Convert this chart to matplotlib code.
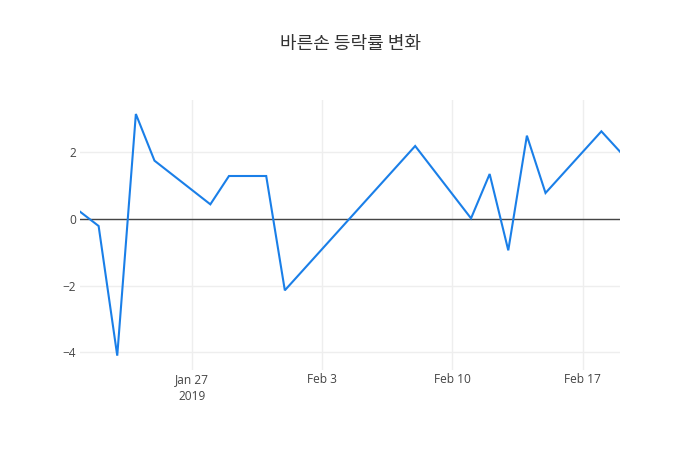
import matplotlib
matplotlib.use("Agg")
import matplotlib.pyplot as plt
import datetime as dt

dates = ["2019-01-21", "2019-01-22", "2019-01-23", "2019-01-24", "2019-01-25",
         "2019-01-28", "2019-01-29", "2019-01-31", "2019-02-01", "2019-02-08",
         "2019-02-11", "2019-02-12", "2019-02-13", "2019-02-14", "2019-02-15",
         "2019-02-18", "2019-02-19"]
values = [0.22, -0.21, -4.10, 3.15, 1.75,
          0.44, 1.29, 1.29, -2.14, 2.19,
          0.02, 1.35, -0.94, 2.50, 0.78,
          2.63, 2.02]
title = "바른손 등락률 변화"
xtick_dates = ["2019-01-27", "2019-02-03", "2019-02-10", "2019-02-17"]
xtick_labels = ["Jan 27\n2019", "Feb 3", "Feb 10", "Feb 17"]
ytick_values = [-4, -2, 0, 2]

plt.rcParams['font.family'] = ['Open Sans', 'DejaVu Sans']

x = [dt.datetime.strptime(d, "%Y-%m-%d") for d in dates]
xt = [dt.datetime.strptime(d, "%Y-%m-%d") for d in xtick_dates]

fig = plt.figure(figsize=(7, 4.5), dpi=100)
ax = fig.add_axes([80/700, 80/450, 540/700, 270/450])

ax.plot(x, values, color='#1a7fe8', linewidth=1.5, zorder=3, solid_joinstyle='miter')
ax.axhline(0, color='#444444', linewidth=1.0, zorder=2)

ax.set_xlim(x[0], x[-1])
ax.set_ylim(-4.53, 3.57)

ax.set_xticks(xt)
ax.set_xticklabels(xtick_labels)
ax.set_yticks(ytick_values)
ax.set_yticklabels([("\u2212" + str(abs(v))) if v < 0 else str(v) for v in ytick_values])

ax.grid(True, color='#eeeeee', linewidth=1.0, zorder=0)
for s in ax.spines.values():
    s.set_visible(False)
ax.tick_params(axis='both', length=0, labelsize=8.6, labelcolor='#444444')
ax.tick_params(axis='x', pad=2)
ax.tick_params(axis='y', pad=3)
for lab in ax.get_xticklabels():
    lab.set_linespacing(1.45)

fig.text(350/700, 1 - 44/450, title, ha='center', va='center', fontsize=13,
         color='#333333', family=['Noto Sans CJK KR', 'DejaVu Sans'])

fig.savefig("out.png", dpi=100, facecolor='white')
